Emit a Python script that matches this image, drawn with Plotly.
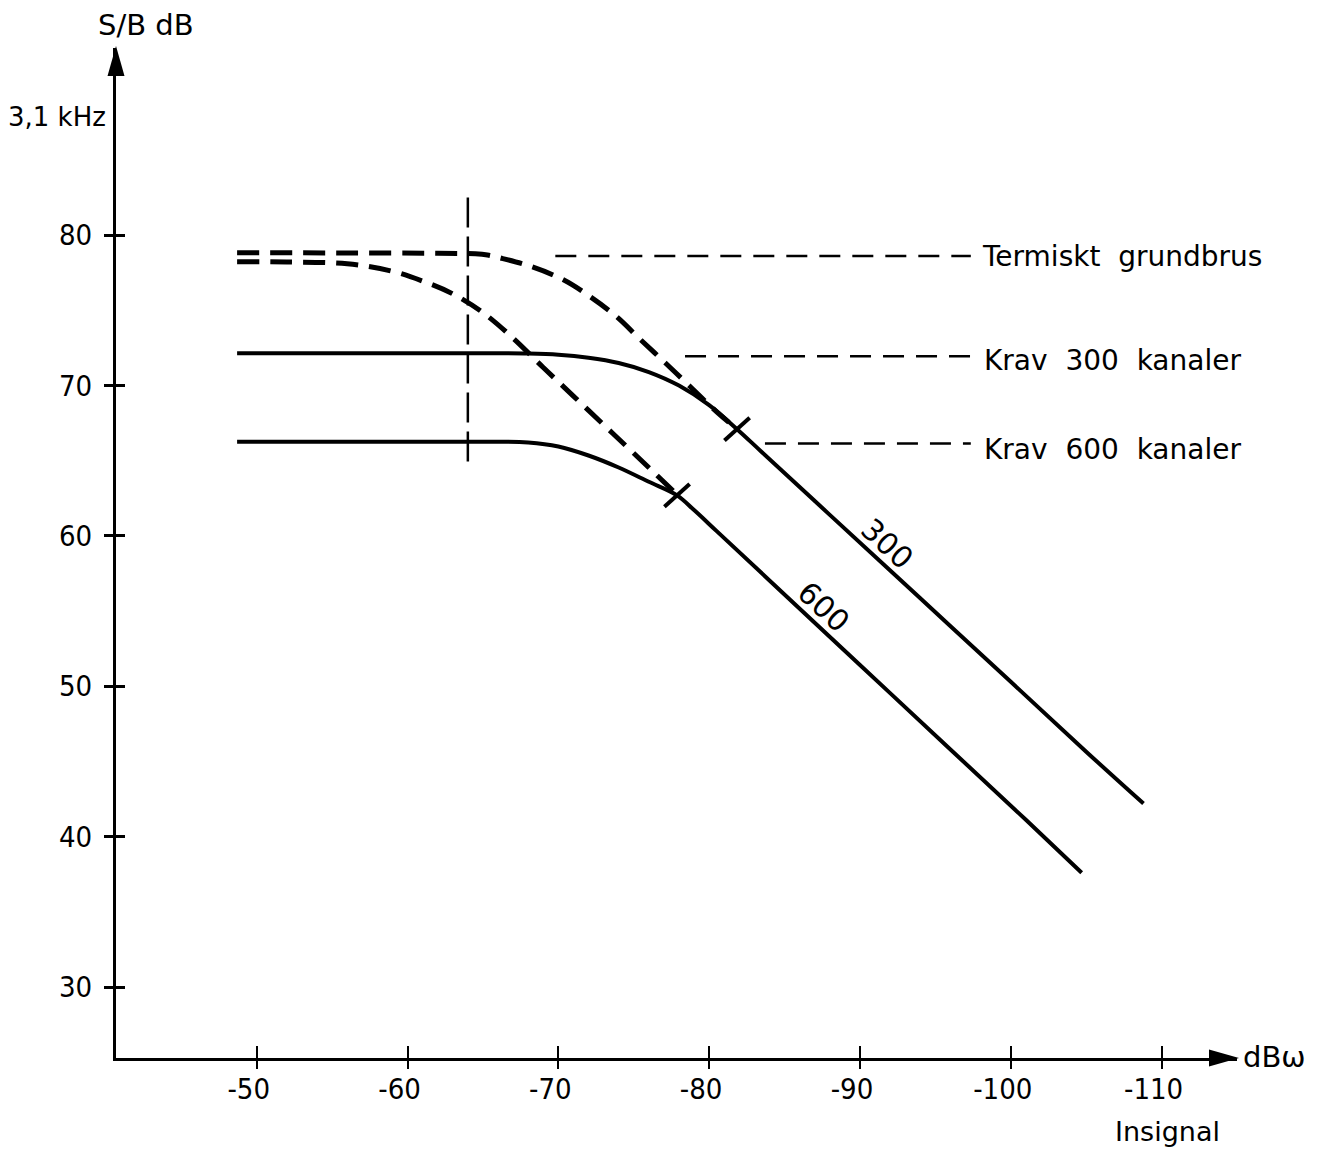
import plotly.graph_objects as go

# ---------------- data ----------------
x_tick_vals = [-50, -60, -70, -80, -90, -100, -110]
x_tick_text = ["-50", "-60", "-70", "-80", "-90", "-100", "-110"]
y_tick_vals = [30, 40, 50, 60, 70, 80]
y_tick_text = ["30", "40", "50", "60", "70", "80"]

# solid curve, 300 channels
krav300_x = [-48.7, -60.0, -66.0, -68.0, -70.0, -72.0, -74.0, -76.0, -78.0, -80.0, -81.85,
             -83.5, -88.0, -94.0, -100.0, -105.0, -108.8]
krav300_y = [72.15, 72.15, 72.15, 72.13, 72.05, 71.85, 71.5, 70.9, 70.0, 68.7, 67.1,
             65.57, 61.4, 55.85, 50.3, 45.65, 42.2]

# solid curve, 600 channels
krav600_x = [-48.7, -60.0, -66.0, -68.0, -70.0, -72.0, -74.0, -76.0, -77.87,
             -79.0, -80.5, -84.0, -90.0, -96.0, -101.0, -104.7]
krav600_y = [66.26, 66.26, 66.26, 66.22, 65.95, 65.35, 64.55, 63.6, 62.7,
             61.72, 60.32, 57.04, 51.42, 45.8, 41.12, 37.6]

# dashed curve (thermal noise) joining the 300 curve
termisk300_x = [-48.7, -56.0, -62.0, -64.5, -65.3, -66.1, -68.1, -70.3, -72.2, -73.9,
                -75.4, -77.1, -78.7, -80.5, -81.85]
termisk300_y = [78.83, 78.82, 78.8, 78.76, 78.68, 78.5, 77.95, 77.05, 75.85, 74.55,
                73.1, 71.5, 69.97, 68.25, 67.1]

# dashed curve (thermal noise) joining the 600 curve
termisk600_x = [-48.7, -52.0, -56.0, -59.0, -61.0, -63.0, -65.0, -67.0, -69.0, -71.0,
                -73.0, -75.0, -77.87]
termisk600_y = [78.24, 78.22, 78.1, 77.6, 76.95, 76.1, 74.85, 73.15, 71.2, 69.3,
                67.4, 65.5, 62.75]

# vertical dashed marker
vline_x = [-64.0, -64.0]
vline_y = [82.5, 64.4]

# intersection ticks
cross_x = [-81.85, -77.87]
cross_y = [67.1, 62.7]

# leader lines + labels
leader_y = [78.62, 71.95, 66.15]
leader_x_start = [-69.8, -78.4, -83.7]
leader_x_end = [-97.35, -97.4, -97.35]
leader_labels = ["Termiskt\u00a0\u00a0grundbrus", "Krav\u00a0\u00a0300\u00a0\u00a0kanaler",
                 "Krav\u00a0\u00a0600\u00a0\u00a0kanaler"]
leader_text_x = [-97.97, -98.1, -98.1]
leader_text_y = [78.56, 71.7, 65.75]

# curve labels
curve_labels = ["300", "600"]
curve_label_x = [-91.8, -87.56]
curve_label_y = [59.52, 55.29]
curve_label_angle = [42.6, 43.0]

# ---------------- layout geometry ----------------
X_RANGE = [-40.67, -115.0]
Y_RANGE = [25.28, 92.45]
OFF = 8                      # default page (body) margin
W, H = 1328 - OFF, 1150 - OFF
ML, MR, MT, MB = 108, 91, 40, 92

FONT = "DejaVu Sans"
TICKFONT = "DejaVu Sans Condensed, DejaVu Sans, sans-serif"
BLACK = "#000000"
SMOOTH = 1.0

fig = go.Figure()

solid = dict(color=BLACK, width=4)
thick_dash = dict(color=BLACK, width=5, dash="22px,11px")
thin_dash = dict(color=BLACK, width=2.5, dash="21px,12px")

fig.add_trace(go.Scatter(x=krav300_x, y=krav300_y, mode="lines",
                         line=dict(**solid, shape="spline", smoothing=SMOOTH),
                         hoverinfo="skip", showlegend=False))
fig.add_trace(go.Scatter(x=krav600_x, y=krav600_y, mode="lines",
                         line=dict(**solid, shape="spline", smoothing=SMOOTH),
                         hoverinfo="skip", showlegend=False))
fig.add_trace(go.Scatter(x=termisk300_x, y=termisk300_y, mode="lines",
                         line=dict(**thick_dash, shape="spline", smoothing=SMOOTH),
                         hoverinfo="skip", showlegend=False))
fig.add_trace(go.Scatter(x=termisk600_x, y=termisk600_y, mode="lines",
                         line=dict(**thick_dash, shape="spline", smoothing=SMOOTH),
                         hoverinfo="skip", showlegend=False))

for xs, xe, yy in zip(leader_x_start, leader_x_end, leader_y):
    fig.add_trace(go.Scatter(x=[xs, xe], y=[yy, yy], mode="lines", line=thin_dash,
                             hoverinfo="skip", showlegend=False))

# vertical dashed line, drawn on the overlay axes
fig.add_trace(go.Scatter(x=vline_x, y=vline_y, mode="lines", xaxis="x2", yaxis="y2",
                         line=dict(color=BLACK, width=2.5, dash="30px,9px"),
                         hoverinfo="skip", showlegend=False))

fig.add_trace(go.Scatter(x=cross_x, y=cross_y, mode="markers",
                         marker=dict(symbol="line-ne", size=24, angle=3,
                                     line=dict(color=BLACK, width=4)),
                         hoverinfo="skip", showlegend=False))

annotations = []
for txt, tx, ty in zip(leader_labels, leader_text_x, leader_text_y):
    annotations.append(dict(x=tx, y=ty, xref="x", yref="y", text=txt, showarrow=False,
                            xanchor="left", yanchor="middle",
                            font=dict(family=FONT, size=28, color=BLACK)))
for txt, tx, ty, ang in zip(curve_labels, curve_label_x, curve_label_y, curve_label_angle):
    annotations.append(dict(x=tx, y=ty, xref="x", yref="y", text=txt, showarrow=False,
                            textangle=ang, xanchor="center", yanchor="middle",
                            font=dict(family=FONT, size=30, color=BLACK)))

pw = W - ML - MR
ph = H - MT - MB
def px_x(p):            # page pixel -> paper coordinate
    return (p - OFF - ML) / pw
def px_y(p):
    return (H - MB - (p - OFF)) / ph

annotations += [
    dict(x=px_x(146), y=px_y(25), xref="paper", yref="paper", text="S/B\u00a0dB",
         showarrow=False, xanchor="center", yanchor="middle",
         font=dict(family=FONT, size=29, color=BLACK)),
    dict(x=px_x(108), y=px_y(117), xref="paper", yref="paper", text="3,1\u00a0kHz",
         showarrow=False, xanchor="right", yanchor="middle",
         font=dict(family=FONT, size=26, color=BLACK)),
    dict(x=px_x(1241), y=px_y(1057), xref="paper", yref="paper", text="dBω",
         showarrow=False, xanchor="left", yanchor="middle",
         font=dict(family=FONT, size=29, color=BLACK)),
    dict(x=px_x(1167), y=px_y(1131), xref="paper", yref="paper", text="Insignal",
         showarrow=False, xanchor="center", yanchor="middle",
         font=dict(family=FONT, size=27, color=BLACK)),
]

shapes = [
    # arrowhead of the x axis
    dict(type="path", xref="paper", yref="paper", xsizemode="pixel", ysizemode="pixel",
         xanchor=1, yanchor=0, path="M2,0 L-28,8.5 L-28,-8.5 Z",
         fillcolor=BLACK, line=dict(width=0), layer="above"),
    # arrowhead of the y axis
    dict(type="path", xref="paper", yref="paper", xsizemode="pixel", ysizemode="pixel",
         xanchor=0, yanchor=1, path="M0,2 L-8.5,-28 L8.5,-28 Z",
         fillcolor=BLACK, line=dict(width=0), layer="above"),
]

tickfont = dict(family=TICKFONT, size=29, color=BLACK)

fig.update_layout(
    width=W, height=H,
    margin=dict(l=ML, r=MR, t=MT, b=MB, autoexpand=False),
    paper_bgcolor="white", plot_bgcolor="white",
    showlegend=False,
    annotations=annotations,
    shapes=shapes,
    xaxis=dict(range=X_RANGE, showgrid=False, zeroline=False,
               showline=True, linecolor=BLACK, linewidth=3,
               tickmode="array", tickvals=x_tick_vals, ticktext=x_tick_text,
               ticks="outside", ticklen=8, tickwidth=2, tickcolor=BLACK,
               tickfont=tickfont, ticklabelstandoff=-5, ticklabelshift=8),
    yaxis=dict(range=Y_RANGE, showgrid=False, zeroline=False,
               showline=True, linecolor=BLACK, linewidth=3,
               tickmode="array", tickvals=y_tick_vals, ticktext=y_tick_text,
               ticks="outside", ticklen=9, tickwidth=2.5, tickcolor=BLACK,
               tickfont=tickfont, ticklabelstandoff=6),
    xaxis2=dict(range=X_RANGE, overlaying="x", anchor="y", side="bottom",
                showgrid=False, zeroline=False, showline=False,
                tickmode="array", tickvals=x_tick_vals,
                ticks="inside", ticklen=12, tickwidth=2, tickcolor=BLACK,
                showticklabels=False),
    yaxis2=dict(range=Y_RANGE, overlaying="y", anchor="x", side="left",
                showgrid=False, zeroline=False, showline=False,
                tickmode="array", tickvals=y_tick_vals,
                ticks="inside", ticklen=9, tickwidth=2.5, tickcolor=BLACK,
                showticklabels=False),
)

fig.write_html("out.html")
